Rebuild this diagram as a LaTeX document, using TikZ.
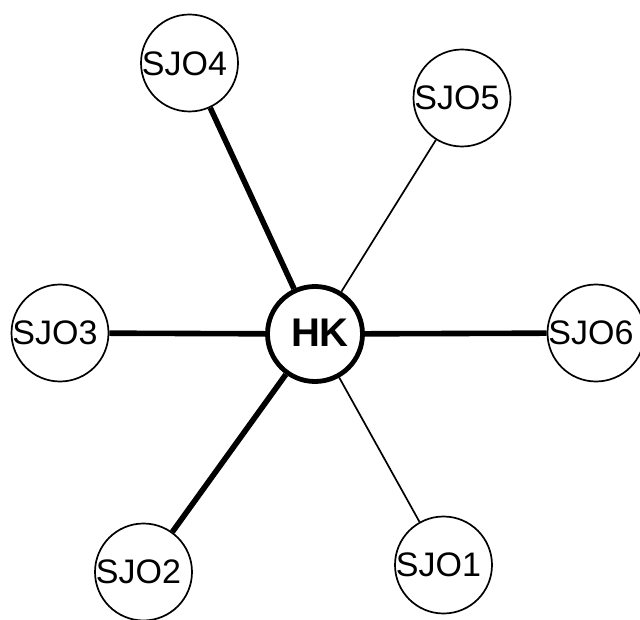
\documentclass[tikz,border=0pt]{standalone}
\usepackage{fontspec}
\setmainfont{Liberation Sans}
\begin{document}
\begin{tikzpicture}[x=1pt,y=-1pt,
  smallc/.style={circle,draw=black,fill=white,line width=1.7pt,minimum size=97pt,inner sep=0pt},
  hubc/.style={circle,draw=black,fill=white,line width=4.8pt,minimum size=95pt,inner sep=0pt},
  lbl/.style={inner sep=0pt,font=\fontsize{34}{40}\selectfont},
  hublbl/.style={inner sep=0pt,font=\fontsize{40}{46}\selectfont\bfseries},
  thickedge/.style={line width=5.6pt},
  thinedge/.style={line width=1.7pt}]
\useasboundingbox (0,0) rectangle (640,620);
\node[hubc] (hk) at (315,334) {};
\node[smallc] (s1) at (443.5,565) {};
\node[smallc] (s2) at (143.5,572) {};
\node[smallc] (s3) at (60,333) {};
\node[smallc] (s4) at (189.5,63) {};
\node[smallc] (s5) at (462,98) {};
\node[smallc] (s6) at (596,333) {};
\draw[thickedge] (hk) -- (s4);
\draw[thinedge] (hk) -- (s5);
\draw[thickedge] (hk) -- (s3);
\draw[thickedge] (hk) -- (s6);
\draw[thickedge] (hk) -- (s2);
\draw[thinedge] (hk) -- (s1);
\node[hublbl] (thk) at ([xshift=5pt,yshift=1pt]hk.center) {HK};
\node[lbl] (t1) at ([xshift=-5pt]s1.center) {SJO1};
\node[lbl] (t2) at ([xshift=-5pt]s2.center) {SJO2};
\node[lbl] (t3) at ([xshift=-5pt]s3.center) {SJO3};
\node[lbl] (t4) at ([xshift=-5pt,yshift=-1pt]s4.center) {SJO4};
\node[lbl] (t5) at ([xshift=-5pt]s5.center) {SJO5};
\node[lbl] (t6) at ([xshift=-5pt]s6.center) {SJO6};
\end{tikzpicture}
\end{document}
